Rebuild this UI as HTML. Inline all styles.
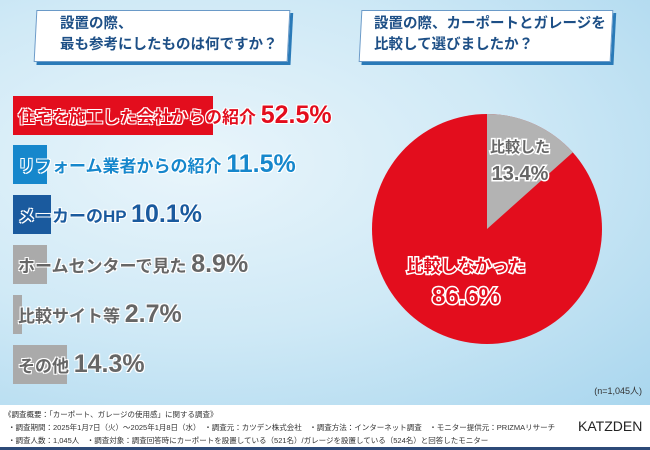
<!DOCTYPE html>
<html><head><meta charset="utf-8"><style>
body{margin:0;width:650px;height:450px;overflow:hidden;font-family:"Liberation Sans","Noto Sans CJK JP",sans-serif;}
#bg{position:absolute;left:0;top:0;width:650px;height:405px;background:radial-gradient(ellipse at 30% 40%,#e9f5fb 0%,#cfe9f6 50%,#a9d6ee 100%);}
#foot{position:absolute;left:0;top:405px;width:650px;height:43px;background:#fff;}
#line{position:absolute;left:0;top:447px;width:650px;height:3px;background:#2d4a78;}
.box{position:absolute;background:#fff;border:1px solid #6a9ac8;box-shadow:3px 3px 0 #2a7ab8;transform:skewX(-3deg);}
.bt{position:absolute;color:#1d4f86;font-size:14.5px;font-weight:bold;line-height:21px;white-space:nowrap;}
.bar{position:absolute;left:13px;height:39px;}
.lab{position:absolute;left:18px;font-size:17px;font-weight:bold;white-space:nowrap;text-shadow:-1px -1px 0 #fff,1px -1px 0 #fff,-1px 1px 0 #fff,1px 1px 0 #fff;}
.big{font-size:25px;}
.ft{position:absolute;font-size:7.5px;color:#333;white-space:nowrap;}
</style></head><body>
<div id="bg"></div>
<div class="box" style="left:35px;top:10px;width:252px;height:50px"></div>
<div class="bt" style="left:60px;top:14px">設置の際、<br>最も参考にしたものは何ですか？</div>
<div class="box" style="left:360px;top:10px;width:250px;height:50px"></div>
<div class="bt" style="left:374px;top:14px">設置の際、カーポートとガレージを<br>比較して選びましたか？</div>

<div class="bar" style="top:96px;width:200px;background:#e30d1d"></div>
<div class="lab" style="top:101px;color:#e30d1d">住宅を施工した会社からの紹介 <span class="big">52.5%</span></div>
<div class="bar" style="top:145px;width:34px;background:#1687cc"></div>
<div class="lab" style="top:150px;color:#1687cc">リフォーム業者からの紹介 <span class="big">11.5%</span></div>
<div class="bar" style="top:195px;width:38px;background:#1a5a9e"></div>
<div class="lab" style="top:200px;color:#1a5a9e">メーカーのHP <span class="big">10.1%</span></div>
<div class="bar" style="top:245px;width:34px;background:#aaa"></div>
<div class="lab" style="top:250px;color:#666">ホームセンターで見た <span class="big">8.9%</span></div>
<div class="bar" style="top:295px;width:9px;background:#aaa"></div>
<div class="lab" style="top:300px;color:#666">比較サイト等 <span class="big">2.7%</span></div>
<div class="bar" style="top:345px;width:54px;background:#aaa"></div>
<div class="lab" style="top:350px;color:#666">その他 <span class="big">14.3%</span></div>

<svg style="position:absolute;left:0;top:0" width="650" height="450">
<circle cx="487" cy="229" r="115" fill="#e30d1d"/>
<path d="M487 229 L487 114 A115 115 0 0 1 572.8 152.4 Z" fill="#b3b3b3"/>
<g font-family="Liberation Sans,Noto Sans CJK JP,sans-serif" font-weight="bold" text-anchor="middle">
<text x="520" y="152" font-size="15" fill="#666" stroke="#fff" stroke-width="3" paint-order="stroke">比較した</text>
<text x="520" y="180" font-size="20" fill="#666" stroke="#fff" stroke-width="3" paint-order="stroke">13.4%</text>
<text x="466" y="272" font-size="17" fill="#e30d1d" stroke="#fff" stroke-width="3" paint-order="stroke">比較しなかった</text>
<text x="466" y="304" font-size="24" fill="#e30d1d" stroke="#fff" stroke-width="3" paint-order="stroke">86.6%</text>
</g>
<text x="642" y="394" font-size="9" fill="#333" text-anchor="end" font-family="Liberation Sans,Noto Sans CJK JP,sans-serif">(n=1,045人)</text>
</svg>
<div id="foot"></div>
<div class="ft" style="left:4px;top:409px">《調査概要：「カーポート、ガレージの使用感」に関する調査》</div>
<div class="ft" style="left:8px;top:422px">・調査期間：2025年1月7日（火）～2025年1月8日（水）　・調査元：カツデン株式会社　・調査方法：インターネット調査　・モニター提供元：PRIZMAリサーチ</div>
<div class="ft" style="left:8px;top:435px">・調査人数：1,045人　・調査対象：調査回答時にカーポートを設置している（521名）/ガレージを設置している（524名）と回答したモニター</div>
<div style="position:absolute;left:578px;top:418px;font-size:14px;color:#222;font-family:'Liberation Sans',sans-serif">KATZDEN</div>
<div id="line"></div>
</body></html>
